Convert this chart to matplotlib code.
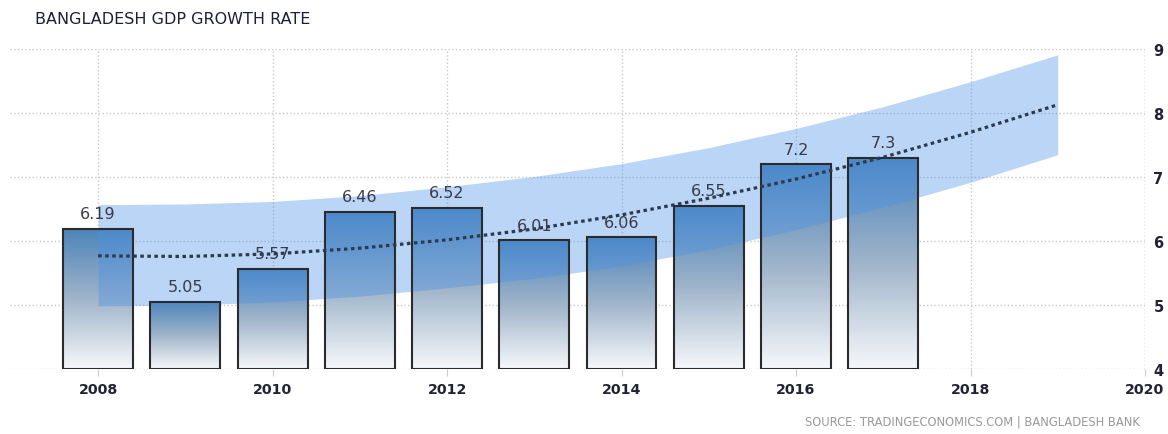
import matplotlib
matplotlib.use('Agg')
import matplotlib.pyplot as plt
import numpy as np
from matplotlib.colors import LinearSegmentedColormap
from matplotlib.patches import Rectangle

# Bangladesh GDP growth rate (annual, %)
years = [2008, 2009, 2010, 2011, 2012, 2013, 2014, 2015, 2016, 2017]
growth = [6.19, 5.05, 5.57, 6.46, 6.52, 6.01, 6.06, 6.55, 7.2, 7.3]
labels = ['6.19', '5.05', '5.57', '6.46', '6.52', '6.01', '6.06', '6.55', '7.2', '7.3']

# trend line with its band
trend_years = [2008, 2009, 2010, 2011, 2012, 2013, 2014, 2015, 2016, 2017, 2018, 2019]
trend = [5.77, 5.76, 5.80, 5.89, 6.02, 6.19, 6.41, 6.67, 6.97, 7.31, 7.70, 8.13]
band_upper = [6.57, 6.58, 6.62, 6.71, 6.85, 7.01, 7.21, 7.46, 7.76, 8.10, 8.49, 8.91]
band_lower = [4.99, 5.00, 5.05, 5.14, 5.27, 5.42, 5.61, 5.87, 6.18, 6.53, 6.92, 7.35]

x_ticks = [2008, 2010, 2012, 2014, 2016, 2018, 2020]
y_ticks = [4, 5, 6, 7, 8, 9]

fig = plt.figure(figsize=(11.68, 4.35), dpi=100)
ax = fig.add_axes([0.0086, 0.149, 0.9717, 0.736])

# gradient bars: blue at the top fading to white at the base
cmap = LinearSegmentedColormap.from_list('bar', ['#f6f8fb', '#9fb4ca', '#4d84ba'])
grad = np.linspace(0, 1, 256).reshape(-1, 1)
w = 0.8
for yr, v in zip(years, growth):
    clip = Rectangle((yr - w / 2, 4), w, v - 4, facecolor='none', edgecolor='none')
    ax.add_patch(clip)
    im = ax.imshow(grad, cmap=cmap, origin='lower', aspect='auto',
                   extent=(yr - w / 2, yr + w / 2, 4, v), zorder=2)
    im.set_clip_path(clip)
    # outline drawn above the band
    ax.add_patch(Rectangle((yr - w / 2, 4), w, v - 4, facecolor='none',
                           edgecolor='#2b2b2b', linewidth=1.5, zorder=5.5))
ax.set_xlim(2006.99, 2020)
ax.set_ylim(4, 9)

ax.fill_between(trend_years, band_lower, band_upper, color='#4a92e6',
                alpha=0.38, linewidth=0, zorder=5)

for yr, v, lab in zip(years, growth, labels):
    ax.text(yr, v + 0.12, lab, ha='center', va='bottom', fontsize=11.5,
            color='#3a3a4a', zorder=5.6)

ax.plot(trend_years, trend, linestyle=(0, (1.1, 1.1)), color='#2c3a50',
        linewidth=2.3, zorder=6)

ax.grid(True, linestyle=':', color='#c8c8c8', linewidth=1, zorder=0)
ax.set_axisbelow(True)
ax.axvline(2020, linestyle=':', color='#c8c8c8', linewidth=1, zorder=0)
for s in ax.spines.values():
    s.set_visible(False)

ax.set_xticks(x_ticks)
ax.set_xticklabels([str(t) for t in x_ticks], fontsize=10.2, fontweight='bold',
                   color='#222233')
ax.set_yticks(y_ticks)
ax.yaxis.tick_right()
ax.set_yticklabels([str(t) for t in y_ticks], fontsize=10.5, fontweight='bold',
                   color='#222233')
ax.tick_params(axis='x', length=5, color='#cccccc', pad=4)
ax.tick_params(axis='y', length=0, pad=6)

fig.text(0.03, 0.955, 'BANGLADESH GDP GROWTH RATE', fontsize=11.5,
         color='#1e1e3c', ha='left', va='center')
fig.text(0.976, 0.015, 'SOURCE: TRADINGECONOMICS.COM | BANGLADESH BANK',
         fontsize=8.3, color='#999999', ha='right', va='bottom')

fig.savefig('out.png', dpi=100)
